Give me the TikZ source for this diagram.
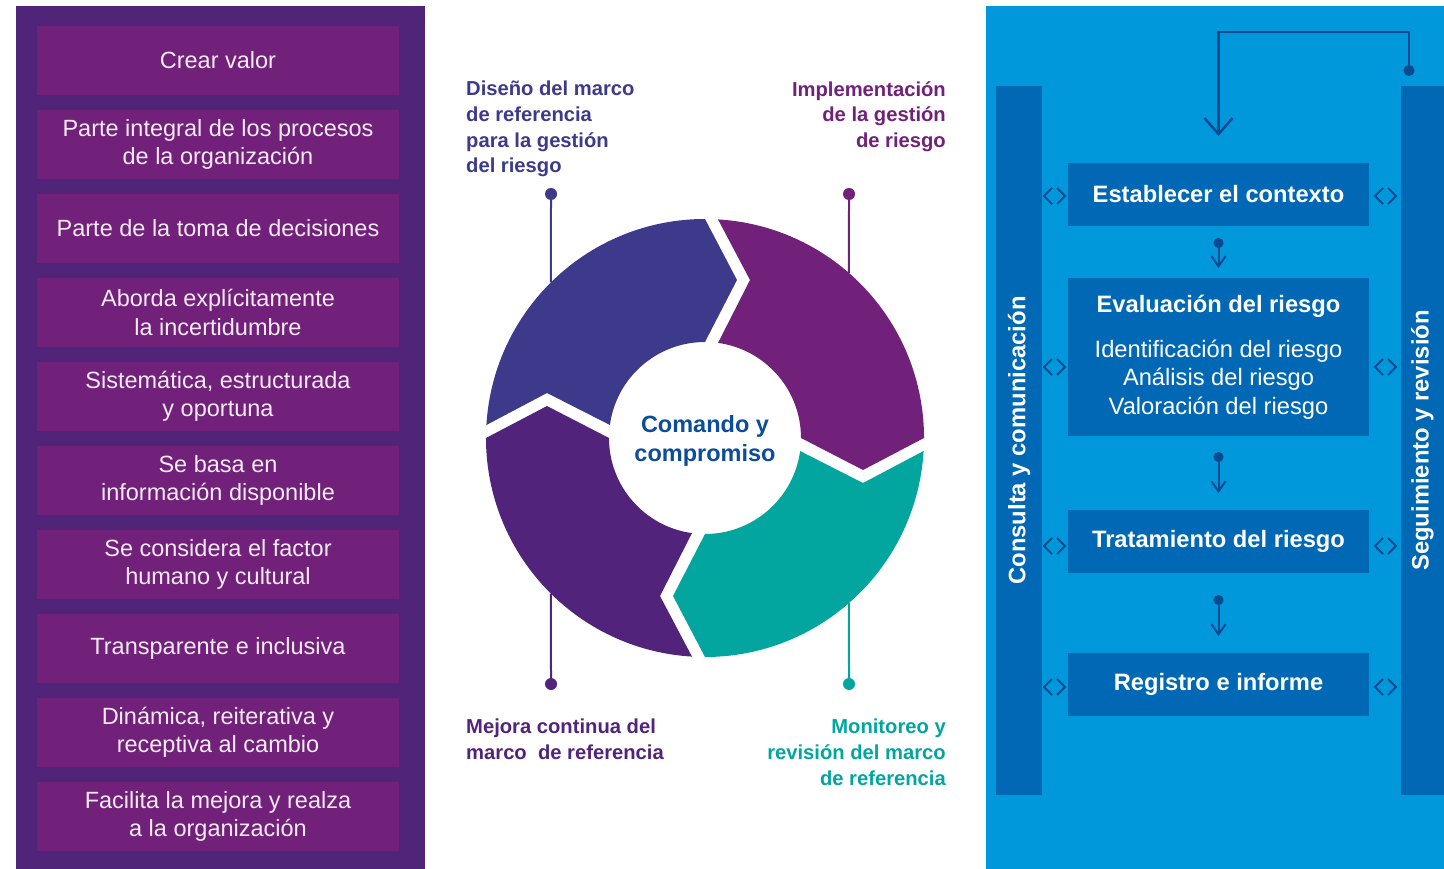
\documentclass[tikz,border=0pt]{standalone}
\usepackage{fontspec}
\setmainfont{Liberation Sans}
\usetikzlibrary{positioning,arrows.meta,calc}

\definecolor{panelpurple}{HTML}{4F2479}
\definecolor{boxpurple}{HTML}{71217A}
\definecolor{ringblue}{HTML}{3D3A8B}
\definecolor{ringpurple}{HTML}{71217A}
\definecolor{ringteal}{HTML}{03A59F}
\definecolor{ringdark}{HTML}{51237A}
\definecolor{hubtext}{HTML}{0B4C9B}
\definecolor{panelblue}{HTML}{0098DA}
\definecolor{stepblue}{HTML}{0068B4}
\definecolor{navy}{HTML}{0A4A92}
\definecolor{softwhite}{HTML}{F4EAF3}

\begin{document}
\begin{tikzpicture}[
  x=1pt, y=1pt,
  principle/.style={fill=boxpurple, text=softwhite, align=center,
                    minimum width=362pt, minimum height=69pt, inner sep=0pt, outer sep=0pt,
                    font=\fontsize{23.5}{28.5}\selectfont},
  stepbox/.style={fill=stepblue, text=white, align=center,
                  minimum width=301pt, minimum height=63pt, inner sep=0pt, outer sep=0pt,
                  font=\bfseries\fontsize{23.7}{28.5}\selectfont},
  sidebar/.style={fill=stepblue, text=white, rotate=90, inner sep=0pt,
                  minimum width=709pt, font=\bfseries\fontsize{23.8}{28}\selectfont},
  ringlabel/.style={inner sep=0pt, font=\bfseries\fontsize{20.2}{25.6}\selectfont},
  pinline/.style={line width=2pt},
  flow/.style={navy, line width=2pt,
               {Circle[length=10pt]}-{Straight Barb[length=10pt,width=14pt]}},
  portmark/.style={navy, line width=1.8pt},
]
\useasboundingbox (0,0) rectangle (1444,-869);

% backgrounds
\fill[panelpurple] (16,-6) rectangle (425,-869);
\fill[panelblue] (986,-6) rectangle (1444,-869);

% principles
\node[principle] (v1) at (218,-60.5) {Crear valor};
\node[principle, below=15pt of v1] (v2) {Parte integral de los procesos\\de la organización};
\node[principle, below=15pt of v2] (v3) {Parte de la toma de decisiones};
\node[principle, below=15pt of v3] (v4) {Aborda explícitamente\\la incertidumbre};
\node[principle, below=15pt of v4] (v5) {Sistemática, estructurada\\y oportuna};
\node[principle, below=15pt of v5] (v6) {Se basa en\\información disponible};
\node[principle, below=15pt of v6] (v7) {Se considera el factor\\humano y cultural};
\node[principle, below=15pt of v7] (v8) {Transparente e inclusiva};
\node[principle, below=15pt of v8] (v9) {Dinámica, reiterativa y\\receptiva al cambio};
\node[principle, below=15pt of v9] (v10) {Facilita la mejora y realza\\a la organización};

% framework ring
\coordinate (hub) at (705,-438);
\coordinate (dot1) at (551,-194);
\coordinate (dot2) at (849,-194);
\coordinate (dot3) at (849,-684);
\coordinate (dot4) at (551,-684);
\coordinate (rim1) at ($(hub)+(134.7:219)$);
\coordinate (rim2) at ($(hub)+(48.9:219)$);
\coordinate (rim3) at ($(hub)+(-48.9:219)$);
\coordinate (rim4) at ($(hub)+(-134.7:219)$);

\draw[pinline, ringblue] (dot1) -- (rim1);
\draw[pinline, ringpurple] (dot2) -- (rim2);
\draw[pinline, ringteal] (dot3) -- (rim3);
\draw[pinline, ringdark] (dot4) -- (rim4);
\fill[ringblue] (dot1) circle (6);
\fill[ringpurple] (dot2) circle (6);
\fill[ringteal] (dot3) circle (6);
\fill[ringdark] (dot4) circle (6);

\foreach \ang/\col in {0/ringblue, -90/ringpurple, -180/ringteal, -270/ringdark}
  \fill[\col, shift={(hub)}, rotate=\ang]
    (0,219) -- (32,158) -- (0,96)
    arc[start angle=90, end angle=172.2, radius=96]
    -- (-158,45) -- (-218.6,13)
    arc[start angle=176.6, end angle=90, radius=219] -- cycle;

\node[text=hubtext, align=center, font=\bfseries\fontsize{23.5}{29}\selectfont]
  (hubtxt) at ([yshift=-3pt]hub) {Comando y\\compromiso};

\node[ringlabel, text=ringblue, align=left, anchor=north west] (design) at (466,-81)
  {Diseño del marco\\de referencia\\para la gestión\\del riesgo};
\node[ringlabel, text=ringpurple, align=right, anchor=north east] (implement) at (946,-81)
  {Implementación\\de la gestión\\de riesgo};
\node[ringlabel, text=ringteal, align=right, anchor=north east] (monitor) at (946,-719)
  {Monitoreo y\\revisión del marco\\de referencia};
\node[ringlabel, text=ringdark, align=left, anchor=north west] (improve) at (466,-719)
  {Mejora continua del\\marco\ \ de referencia};

% process
\node[sidebar, minimum height=46pt] (consult) at (1019,-440.5) {Consulta y comunicación};
\node[sidebar, minimum height=43pt] (review) at (1422.5,-440.5) {Seguimiento y revisión};

\node[stepbox] (s1) at (1218.5,-194.5) {Establecer el contexto};
\node[stepbox, minimum height=158pt, below=52pt of s1] (s2)
  {Evaluación del riesgo\\[16.5pt]
   \mdseries Identificación del riesgo\\
   \mdseries Análisis del riesgo\\
   \mdseries Valoración del riesgo};
\node[stepbox, below=74pt of s2] (s3) {Tratamiento del riesgo};
\node[stepbox, below=80pt of s3] (s4) {Registro e informe};

\draw[flow] ([yshift=-12pt]s1.south) -- ([yshift=10pt]s2.north);
\draw[flow] ([yshift=-16pt]s2.south) -- ([yshift=17pt]s3.north);
\draw[flow] ([yshift=-22pt]s3.south) -- ([yshift=17pt]s4.north);

\coordinate (loopstart) at (1409,-76);
\draw[navy, line width=2.5pt, {Circle[length=11pt]}-{Straight Barb[length=16pt,width=28pt]}]
  (loopstart) -- ++(0,44) -| ([yshift=27pt]s1.north);

% two-way marks beside the steps
\foreach \y in {196,367,546,687}
  \foreach \x in {1054.5,1385.5} {
    \draw[portmark] (\x-2.5,-\y+8) -- (\x-10.5,-\y) -- (\x-2.5,-\y-8);
    \draw[portmark] (\x+2.5,-\y+8) -- (\x+10.5,-\y) -- (\x+2.5,-\y-8);
  }
\end{tikzpicture}
\end{document}
